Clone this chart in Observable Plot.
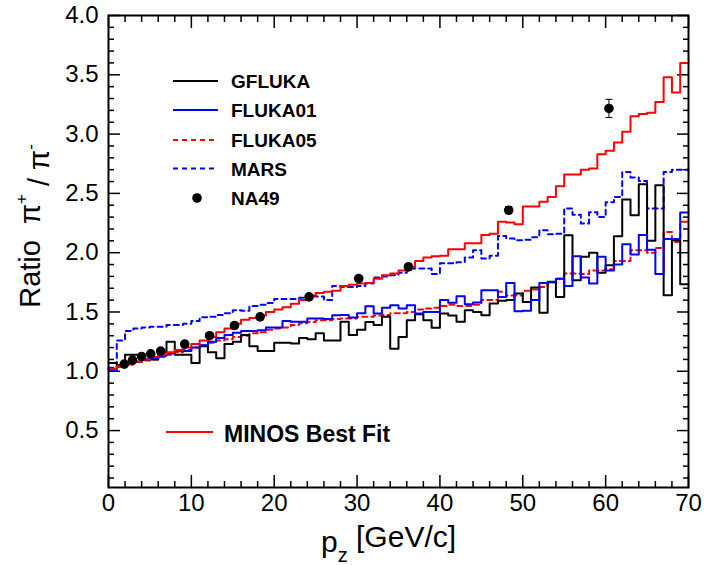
<!DOCTYPE html>
<html><head><meta charset="utf-8">
<script src="https://cdn.jsdelivr.net/npm/d3@7"></script>
<script src="https://cdn.jsdelivr.net/npm/@observablehq/plot@0.6"></script>
<style>body{margin:0;background:#fff}</style>
</head><body><div id="chart"></div>
<script>
// ---- data (1 GeV/c bins from 0 to 70) ----
const binEdges = d3.range(0, 71);

const gfluka = [
  1.07,1.05,1.14,1.14,1.10,1.10,1.16,1.25,1.14,1.14,
  1.07,1.21,1.16,1.11,1.23,1.25,1.305,1.21,1.17,1.17,
  1.24,1.24,1.235,1.28,1.27,1.32,1.26,1.26,1.417,1.305,
  1.35,1.415,1.39,1.46,1.19,1.29,1.43,1.48,1.43,1.366,
  1.487,1.47,1.417,1.515,1.50,1.473,1.572,1.594,1.60,1.656,
  1.585,1.706,1.493,1.754,1.627,2.148,1.768,1.965,2.0,1.83,
  1.895,2.139,2.449,2.316,2.578,2.10,2.569,1.642,2.105,1.734
];
const fluka01 = [
  1.01,1.04,1.06,1.08,1.10,1.11,1.13,1.15,1.17,1.17,
  1.20,1.22,1.25,1.28,1.305,1.325,1.34,1.34,1.345,1.37,
  1.37,1.425,1.417,1.417,1.445,1.445,1.44,1.473,1.475,1.453,
  1.49,1.549,1.487,1.535,1.557,1.53,1.557,1.487,1.50,1.50,
  1.60,1.577,1.633,1.566,1.58,1.684,1.684,1.627,1.745,1.507,
  1.51,1.60,1.745,1.75,1.78,1.72,1.97,1.79,1.74,1.965,
  1.85,1.90,2.072,1.985,2.15,2.025,1.82,2.115,2.115,2.338
];
const fluka05 = [
  1.02,1.04,1.06,1.08,1.09,1.10,1.12,1.14,1.16,1.18,
  1.20,1.22,1.24,1.26,1.27,1.29,1.30,1.32,1.33,1.35,
  1.36,1.37,1.39,1.405,1.415,1.43,1.43,1.44,1.445,1.445,
  1.46,1.46,1.47,1.475,1.49,1.49,1.50,1.52,1.53,1.535,
  1.55,1.56,1.55,1.55,1.56,1.60,1.60,1.67,1.64,1.64,
  1.68,1.69,1.71,1.75,1.78,1.825,1.825,1.82,1.85,1.85,
  1.86,1.93,1.93,2.02,2.02,2.00,2.04,2.175,2.09,2.26
];
const mars = [
  1.03,1.26,1.34,1.36,1.37,1.375,1.375,1.39,1.39,1.40,
  1.425,1.455,1.46,1.475,1.49,1.515,1.51,1.55,1.56,1.575,
  1.61,1.61,1.61,1.62,1.64,1.63,1.60,1.72,1.71,1.71,
  1.72,1.74,1.79,1.80,1.81,1.83,1.866,1.866,1.866,1.82,
  1.91,1.91,1.92,1.96,2.02,1.95,1.975,2.14,2.12,2.105,
  2.11,2.13,2.19,2.155,2.16,2.373,2.32,2.246,2.34,2.30,
  2.425,2.47,2.68,2.635,2.605,2.373,2.373,2.68,2.70,2.70
];
const minosBestFit = [
  1.02,1.04,1.06,1.08,1.10,1.12,1.14,1.16,1.18,1.20,
  1.23,1.26,1.29,1.33,1.36,1.40,1.435,1.45,1.47,1.50,
  1.52,1.54,1.57,1.60,1.63,1.66,1.67,1.68,1.72,1.73,
  1.74,1.745,1.78,1.81,1.825,1.85,1.88,1.93,1.96,1.97,
  1.975,2.03,2.03,2.08,2.08,2.15,2.16,2.26,2.255,2.24,
  2.39,2.39,2.43,2.47,2.56,2.66,2.66,2.70,2.71,2.83,
  2.86,2.93,3.02,3.15,3.17,3.18,3.27,3.48,3.35,3.60
];

const na49Pz    = [1.9,2.9,4.0,5.1,6.3,9.2,12.2,15.2,18.3,24.2,30.2,36.2,48.3,60.4];
const na49Ratio = [1.06,1.094,1.125,1.147,1.17,1.229,1.30,1.386,1.459,1.627,1.782,1.88,2.358,3.216];
const na49Err   = [0.01,0.01,0.01,0.01,0.01,0.015,0.015,0.015,0.02,0.02,0.02,0.025,0.03,0.077];

const xMajorTicks = [0,10,20,30,40,50,60,70];
const xMinorTicks = d3.range(2, 70, 2).filter(v => v % 10 !== 0);
const yMajorTicks = [0.5,1.0,1.5,2.0,2.5,3.0,3.5,4.0];
const yMinorTicks = d3.range(1, 40).filter(i => i % 5 !== 0).map(i => i / 10);

const legendItems = [
  {label: "GFLUKA",  stroke: "#000000", dash: null},
  {label: "FLUKA01", stroke: "#0000ff", dash: null},
  {label: "FLUKA05", stroke: "#ff0000", dash: "5,4"},
  {label: "MARS",    stroke: "#0000ff", dash: "5,4"},
  {label: "NA49",    stroke: null,      dash: null}
];

// ---- helpers ----
function steps(values) {
  const pts = values.map((v, i) => ({x: binEdges[i], y: v}));
  pts.push({x: binEdges[values.length], y: values[values.length - 1]});
  return pts;
}
const na49 = na49Pz.map((p, i) => ({x: p, y: na49Ratio[i], lo: na49Ratio[i] - na49Err[i], hi: na49Ratio[i] + na49Err[i]}));
const capSymbol = {draw(ctx) { ctx.moveTo(-3.5, 0); ctx.lineTo(3.5, 0); }};

const font = "'Liberation Sans', Arial, Helvetica, sans-serif";

const plot = Plot.plot({
  width: 704,
  height: 565,
  marginLeft: 108,
  marginRight: 16,
  marginTop: 15,
  marginBottom: 78,
  x: {domain: [0, 70]},
  y: {domain: [0.02, 4]},
  style: {fontFamily: font, color: "black", background: "white", overflow: "visible"},
  marks: [
    // ticks (inward, all four sides)
    Plot.axisX({ticks: xMajorTicks, anchor: "bottom", tickSize: -12, fill: "none", label: null, strokeWidth: 1.5}),
    Plot.axisX({ticks: xMinorTicks, anchor: "bottom", tickSize: -6, fill: "none", label: null, strokeWidth: 1.5}),
    Plot.axisX({ticks: xMajorTicks, anchor: "top", tickSize: -12, fill: "none", label: null, strokeWidth: 1.5}),
    Plot.axisX({ticks: xMinorTicks, anchor: "top", tickSize: -6, fill: "none", label: null, strokeWidth: 1.5}),
    Plot.axisY({ticks: yMajorTicks, anchor: "left", tickSize: -12, fill: "none", label: null, strokeWidth: 1.5}),
    Plot.axisY({ticks: yMinorTicks, anchor: "left", tickSize: -6, fill: "none", label: null, strokeWidth: 1.5}),
    Plot.axisY({ticks: yMajorTicks, anchor: "right", tickSize: -12, fill: "none", label: null, strokeWidth: 1.5}),
    Plot.axisY({ticks: yMinorTicks, anchor: "right", tickSize: -6, fill: "none", label: null, strokeWidth: 1.5}),
    // tick labels
    Plot.axisX({ticks: xMajorTicks, anchor: "bottom", tickSize: 0, tickPadding: 6, fontSize: 24, label: null}),
    Plot.axisY({ticks: yMajorTicks, anchor: "left", tickSize: 0, tickPadding: 10, fontSize: 24, label: null, tickFormat: d3.format(".1f")}),
    // histograms
    Plot.line(steps(mars),    {x: "x", y: "y", curve: "step-after", stroke: "#0000ff", strokeWidth: 2, strokeDasharray: "5,4"}),
    Plot.line(steps(fluka05), {x: "x", y: "y", curve: "step-after", stroke: "#ff0000", strokeWidth: 2, strokeDasharray: "5,4"}),
    Plot.line(steps(gfluka),  {x: "x", y: "y", curve: "step-after", stroke: "#000000", strokeWidth: 2}),
    Plot.line(steps(fluka01), {x: "x", y: "y", curve: "step-after", stroke: "#0000ff", strokeWidth: 2}),
    Plot.line(steps(minosBestFit), {x: "x", y: "y", curve: "step-after", stroke: "#ff0000", strokeWidth: 2}),
    // NA49 data points with errors
    Plot.ruleX(na49, {x: "x", y1: "lo", y2: "hi", stroke: "black", strokeWidth: 1}),
    Plot.dot(na49, {x: "x", y: "lo", symbol: capSymbol, stroke: "black", strokeWidth: 1, fill: "none"}),
    Plot.dot(na49, {x: "x", y: "hi", symbol: capSymbol, stroke: "black", strokeWidth: 1, fill: "none"}),
    Plot.dot(na49, {x: "x", y: "y", r: 4.8, fill: "black", stroke: "none"}),
    Plot.frame({stroke: "black", strokeWidth: 2})
  ]
});

// ---- legend & axis titles (layout annotations) ----
const svg = d3.select(plot);
const leg = svg.append("g").attr("font-family", font).attr("font-weight", "bold").attr("text-anchor", "start");
const rowY = [81, 110, 140, 168.5, 198];
legendItems.forEach((d, i) => {
  const y = rowY[i];
  if (d.stroke) {
    leg.append("line").attr("x1", 173).attr("x2", 218).attr("y1", y).attr("y2", y)
      .attr("stroke", d.stroke).attr("stroke-width", 2)
      .attr("stroke-dasharray", d.dash);
  } else {
    leg.append("circle").attr("cx", 197).attr("cy", y).attr("r", 4.8).attr("fill", "black");
  }
  leg.append("text").attr("x", 231).attr("y", y + 7).attr("font-size", 19).text(d.label);
});
leg.append("line").attr("x1", 166).attr("x2", 213).attr("y1", 432).attr("y2", 432)
  .attr("stroke", "#ff0000").attr("stroke-width", 2);
leg.append("text").attr("x", 224).attr("y", 441.5).attr("font-size", 23).text("MINOS Best Fit");

// x title
const xt = svg.append("text").attr("font-family", font).attr("font-size", 30)
  .attr("text-anchor", "start").attr("x", 321).attr("y", 552);
xt.append("tspan").text("p");
xt.append("tspan").attr("font-size", 20).attr("dy", "0.5em").text("z");
xt.append("tspan").attr("dy", "-0.5em").text(" [GeV/c]");

// y title
const yt = svg.append("text").attr("font-family", font).attr("font-size", 29)
  .attr("text-anchor", "middle")
  .attr("transform", "translate(40,226) rotate(-90)");
yt.append("tspan").text("Ratio  \u03c0");
yt.append("tspan").attr("font-size", 17).attr("dy", "-0.75em").text("+");
yt.append("tspan").attr("dy", "0.75em").text(" / \u03c0");
yt.append("tspan").attr("font-size", 17).attr("dy", "-0.75em").text("-");

document.getElementById("chart").appendChild(plot);
</script>
</body></html>
